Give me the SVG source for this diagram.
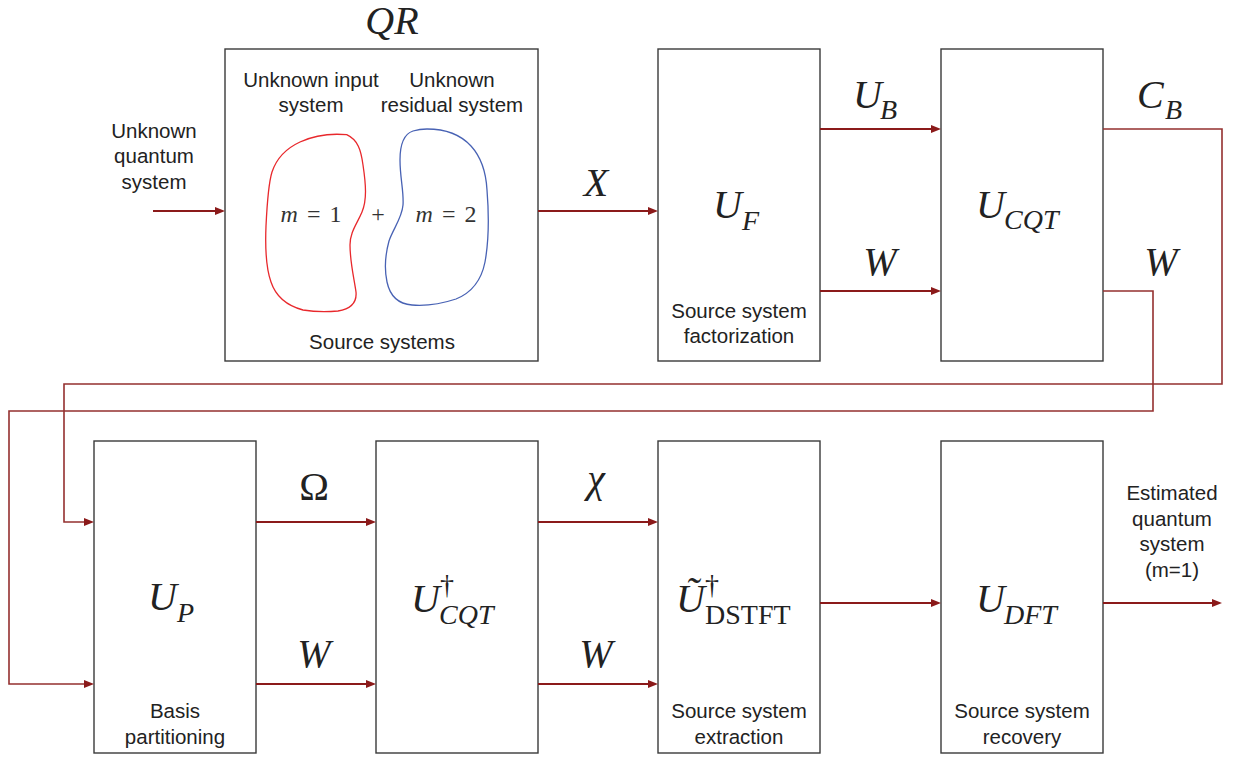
<svg xmlns="http://www.w3.org/2000/svg" width="1239" height="757" viewBox="0 0 1239 757">
<style>
.box{fill:#fff;stroke:#3a3a3a;stroke-width:1.4}
.lbl{font-family:"Liberation Sans",Arial,sans-serif;font-size:20.5px;fill:#222;text-anchor:middle}
.m{font-family:"Liberation Serif","Times New Roman",serif;font-style:italic;font-size:40px;fill:#222}
.s{font-family:"Liberation Serif","Times New Roman",serif;font-style:italic;font-size:28px;fill:#222}
.up{font-style:normal}
.mm{font-family:"Liberation Serif","Times New Roman",serif;font-size:24px;fill:#333;text-anchor:middle;word-spacing:3px}
.c{fill:none;stroke:#8b1a1a;stroke-width:2}
.fb{fill:none;stroke:#94302f;stroke-width:1.6}
</style>
<defs>
<marker id="ah" viewBox="0 0 10 8" refX="1" refY="4" markerWidth="10" markerHeight="8" markerUnits="userSpaceOnUse" orient="auto">
<path d="M0,0 L10,4 L0,8 z" fill="#8b1a1a"/>
</marker>
</defs>

<g id="input-label">
<text class="lbl" x="154" y="138">Unknown</text>
<text class="lbl" x="154" y="163">quantum</text>
<text class="lbl" x="154" y="189">system</text>
</g>

<g id="qr">
<rect class="box" x="225" y="49" width="313" height="312"/>
<text class="m" x="392" y="34" text-anchor="middle" font-size="37">QR</text>
<text class="lbl" x="311" y="87">Unknown input</text>
<text class="lbl" x="311" y="112">system</text>
<text class="lbl" x="452" y="87">Unknown</text>
<text class="lbl" x="452" y="112">residual system</text>
<path d="M346.7,134.7 C358,140 361,150 363,165 C366,185 367,200 362,212 C357,224 350,232 350,245 C350,262 354,278 356,292 C357,303 350,309 338,311 C328,312 315,312 303,310 C288,306 276,297 271,282 C266,268 265,250 266,226 C267,205 268,185 272,172 C277,157 287,148 300,142 C313,136 328,133 346.7,134.7 Z" fill="none" stroke="#e8282c" stroke-width="1.3"/>
<path d="M427,129 C445,129 460,134 471,146 C482,158 486,172 487,190 C489,215 489,240 485,262 C481,282 471,293 456,299 C441,304 425,306 412,305 C399,304 390,296 387,282 C384,268 386,252 389,241 C393,229 402,218 403,205 C404,192 400,178 400,160 C400,145 404,134 413,131 C418,129.5 422,129 427,129 Z" fill="none" stroke="#4862b4" stroke-width="1.3"/>
<text class="mm" x="311" y="222"><tspan font-style="italic">m</tspan> = 1</text>
<text class="mm" x="378" y="222" font-size="28">+</text>
<text class="mm" x="446" y="222"><tspan font-style="italic">m</tspan> = 2</text>
<text class="lbl" x="382" y="349">Source systems</text>
</g>

<g id="uf">
<rect class="box" x="658" y="49" width="162" height="312"/>
<text class="m" x="713" y="218">U</text>
<text class="s" x="742" y="230">F</text>
<text class="lbl" x="739" y="318">Source system</text>
<text class="lbl" x="739" y="343">factorization</text>
</g>

<g id="ucqt">
<rect class="box" x="941" y="49" width="162" height="312"/>
<text class="m" x="976" y="218">U</text>
<text class="s" x="1004" y="229">CQT</text>
</g>

<g id="up">
<rect class="box" x="94" y="441" width="162" height="312"/>
<text class="m" x="148" y="610">U</text>
<text class="s" x="177" y="622">P</text>
<text class="lbl" x="175" y="718">Basis</text>
<text class="lbl" x="175" y="744">partitioning</text>
</g>

<g id="ucqt-inv">
<rect class="box" x="376" y="441" width="162" height="312"/>
<text class="m" x="411" y="612">U</text>
<text class="s up" x="440" y="594" font-size="26">†</text>
<text class="s" x="439" y="624">CQT</text>
</g>

<g id="udstft">
<rect class="box" x="658" y="441" width="162" height="312"/>
<text class="m" x="676" y="612">Ũ</text>
<text class="s up" x="705" y="594" font-size="26">†</text>
<text class="s up" x="705" y="624" font-size="30">DSTFT</text>
<text class="lbl" x="739" y="718">Source system</text>
<text class="lbl" x="739" y="744">extraction</text>
</g>

<g id="udft">
<rect class="box" x="941" y="441" width="162" height="312"/>
<text class="m" x="976" y="612">U</text>
<text class="s" x="1004" y="624">DFT</text>
<text class="lbl" x="1022" y="718">Source system</text>
<text class="lbl" x="1022" y="744">recovery</text>
</g>

<g id="output-label">
<text class="lbl" x="1172" y="500">Estimated</text>
<text class="lbl" x="1172" y="526">quantum</text>
<text class="lbl" x="1172" y="551">system</text>
<text class="lbl" x="1172" y="577">(m=1)</text>
</g>

<g id="connectors">
<path class="c" d="M153,211 H216" marker-end="url(#ah)"/>
<path class="c" d="M538,211 H649" marker-end="url(#ah)"/>
<path class="c" d="M820,129 H932" marker-end="url(#ah)"/>
<path class="c" d="M820,291 H932" marker-end="url(#ah)"/>
<path class="fb" d="M1103,129 H1222 V384 H64 V522 H85" marker-end="url(#ah)"/>
<path class="fb" d="M1103,291 H1153 V411 H9 V684 H85" marker-end="url(#ah)"/>
<path class="c" d="M256,522 H367" marker-end="url(#ah)"/>
<path class="c" d="M256,684 H367" marker-end="url(#ah)"/>
<path class="c" d="M538,522 H649" marker-end="url(#ah)"/>
<path class="c" d="M538,684 H649" marker-end="url(#ah)"/>
<path class="c" d="M820,603 H932" marker-end="url(#ah)"/>
<path class="c" d="M1103,603 H1213" marker-end="url(#ah)"/>
<text class="m" x="596" y="196" text-anchor="middle">X</text>
<text class="m" x="853" y="108">U</text>
<text class="s" x="880" y="119">B</text>
<text class="m" x="880" y="275" text-anchor="middle">W</text>
<text class="m" x="1137" y="108">C</text>
<text class="s" x="1165" y="119">B</text>
<text class="m" x="1161" y="275" text-anchor="middle">W</text>
<text class="m up" x="314" y="500" text-anchor="middle" font-size="38">Ω</text>
<text class="m" x="314" y="667" text-anchor="middle">W</text>
<text class="m" x="596" y="492" text-anchor="middle">χ</text>
<text class="m" x="596" y="667" text-anchor="middle">W</text>
</g>
</svg>
